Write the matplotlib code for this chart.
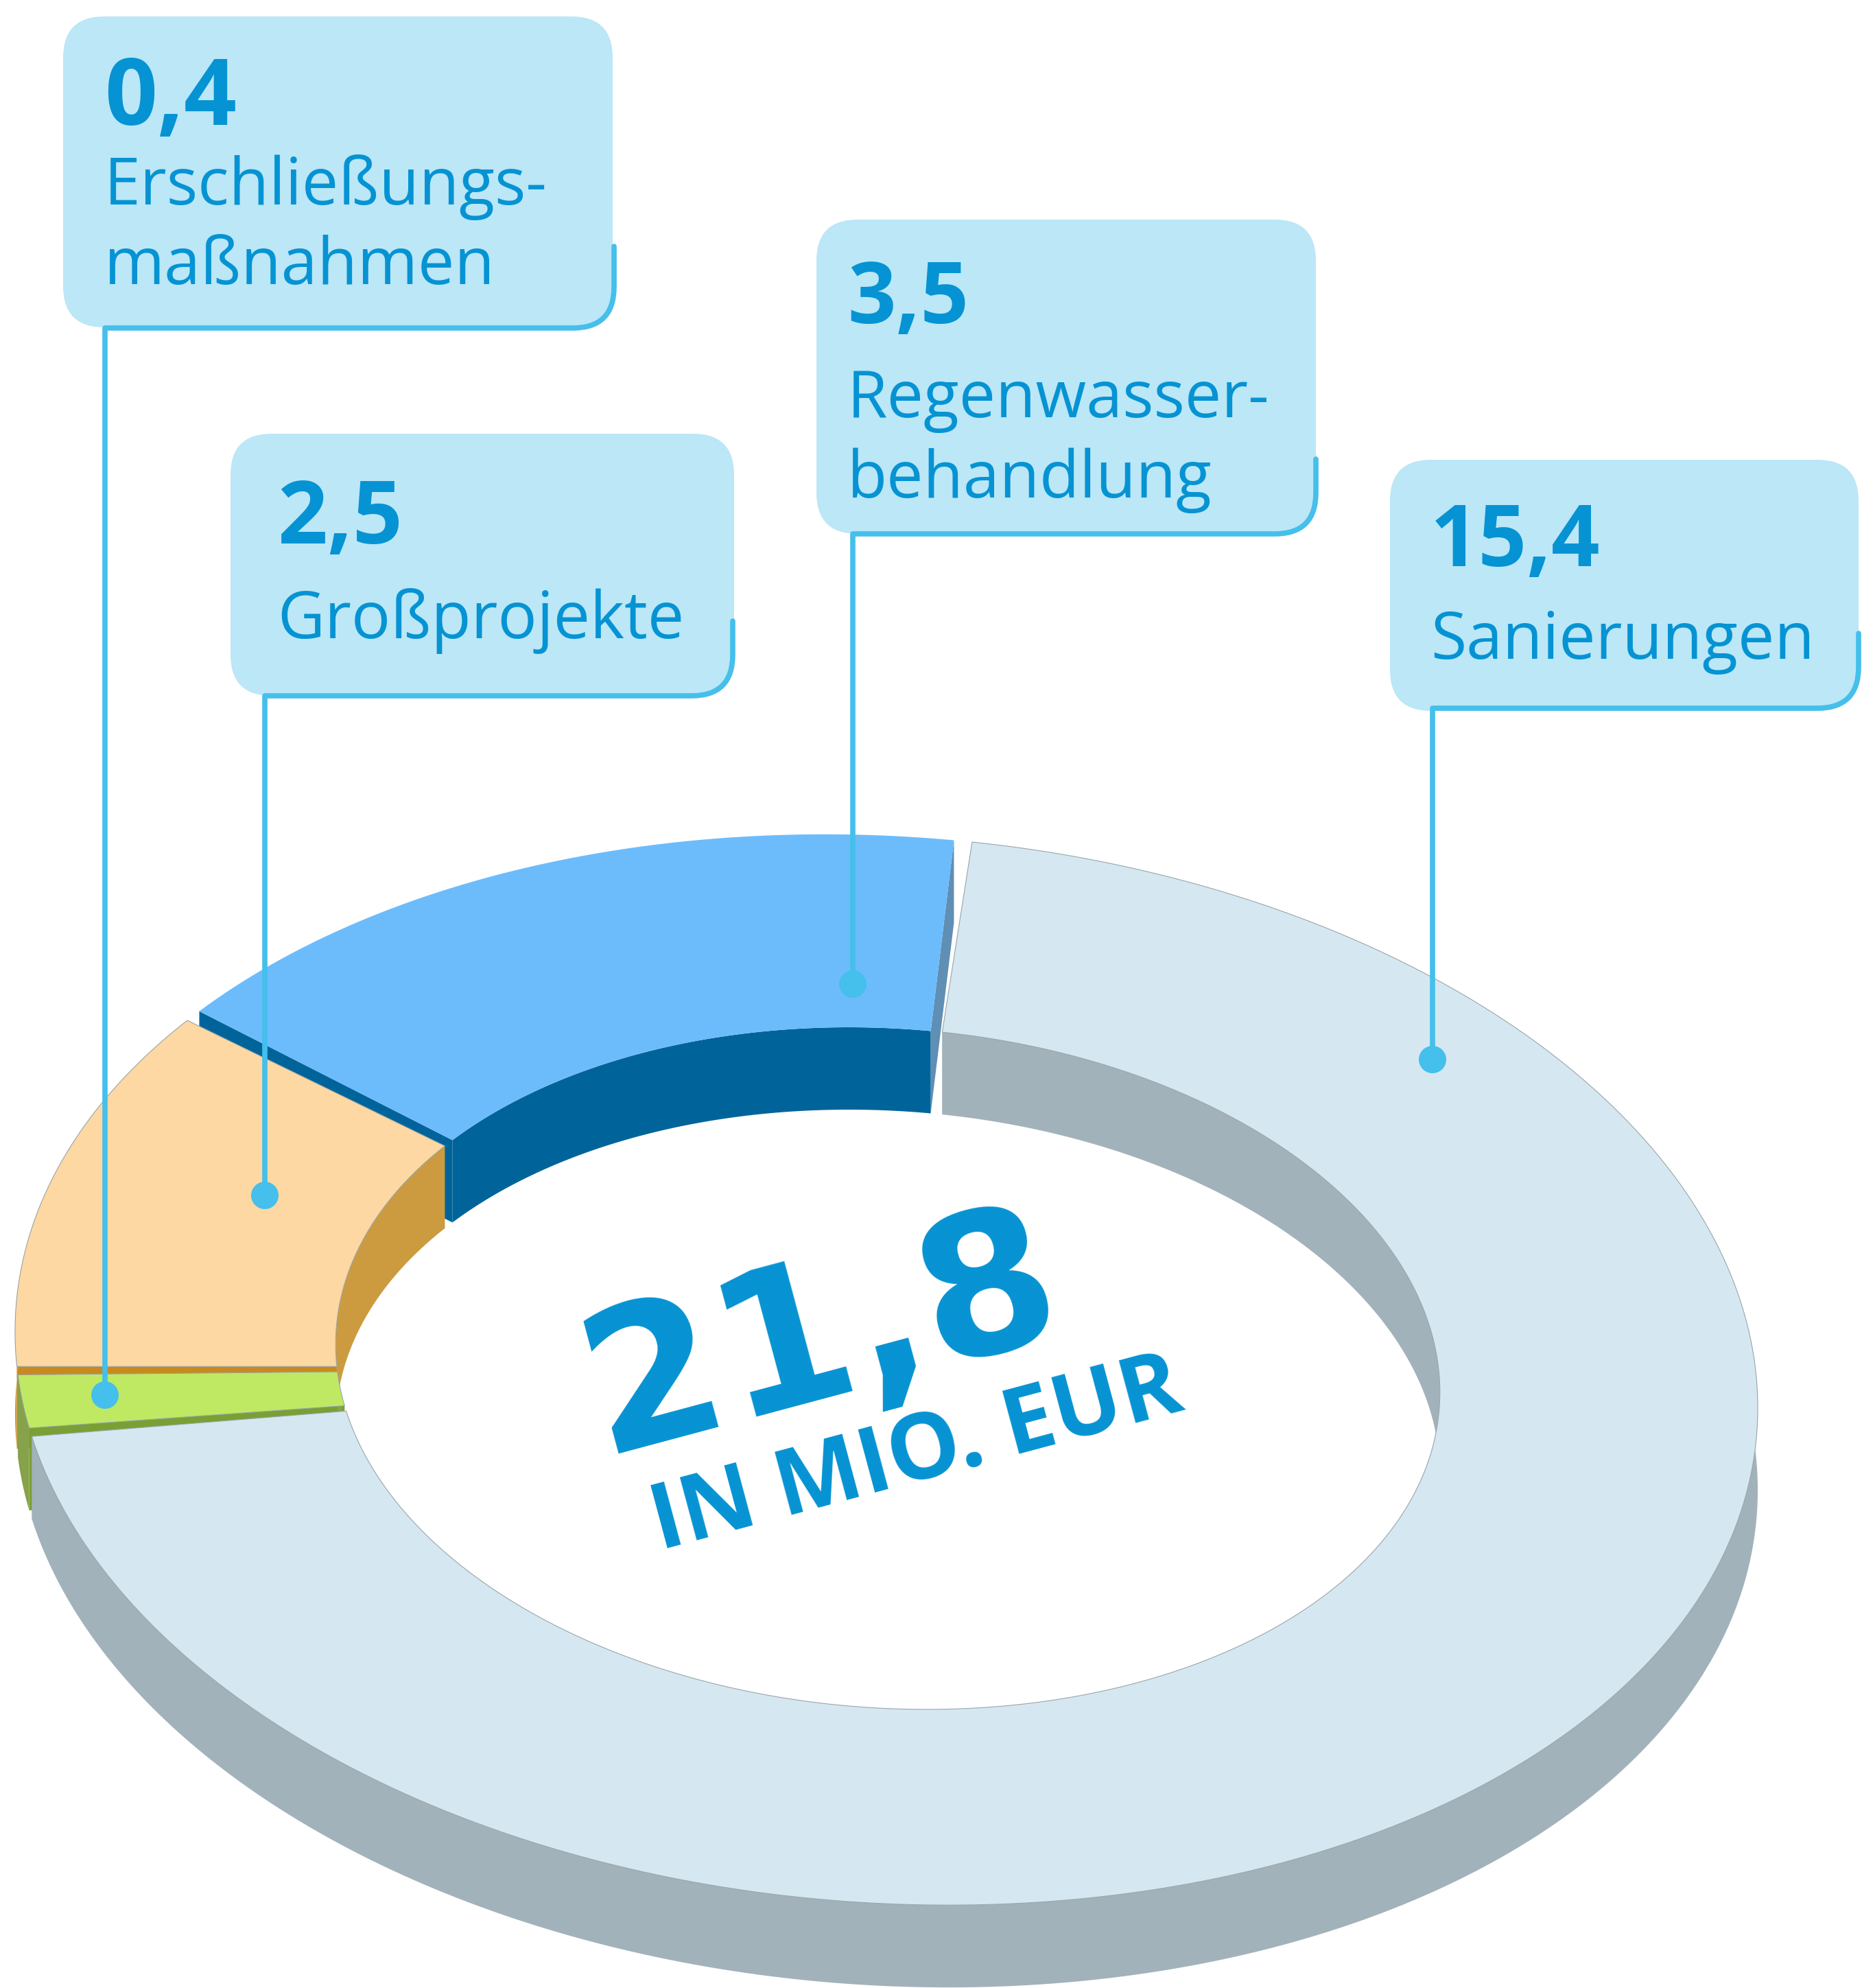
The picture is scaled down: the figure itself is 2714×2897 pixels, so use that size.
import numpy as np
import matplotlib
matplotlib.use("Agg")
import matplotlib.pyplot as plt
from matplotlib.patches import FancyBboxPatch, PathPatch, Circle
from matplotlib.path import Path

# data, clockwise from the gap at the top
labels = ["Sanierungen", "Erschließungs-\nmaßnahmen", "Großprojekte", "Regenwasser-\nbehandlung"]
values = [15.4, 0.4, 2.5, 3.5]
value_text = ["15,4", "0,4", "2,5", "3,5"]
total_text = "21,8"
unit_text = "IN MIO. EUR"

# colours per slice
top_colors = ["#d5e8f1", "#bfe963", "#fdd8a2", "#6cbcfc"]
wall_colors = ["#a2b2ba", "#86a24a", "#cc9b40", "#00649a"]
face_colors = ["#a2b2ba", "#7a9f34", "#c98a1c", "#00649a"]
gaps = [1.2, 0.9, 0.9, 1.3]  # taken off the start of each slice, degrees

BOX = "#bbe7f7"
LINE = "#45bfeb"
TEXT = "#0693d3"
EDGE = "#9aa5aa"
SLIVER = "#5f8fb5"
FONT = "Open Sans"

# ring geometry, in image pixels
W, H = 2714, 2897
OUT = (1292, 1996, 1272, 777)
INN = (1294, 1994, 806, 495)
DEPTH = 120
TILT = np.radians(4)  # the whole ellipse leans, right side lower
START = 88.0

fig = plt.figure(figsize=(W / 100, H / 100), dpi=100)
ax = fig.add_axes([0, 0, 1, 1])
ax.set_xlim(0, W)
ax.set_ylim(H, 0)
ax.axis("off")


def arc(ell, phi, dy=0):
    cx, cy, a, b = ell
    x = a * np.cos(phi)
    y = b * np.sin(phi)
    return np.column_stack([cx + x * np.cos(TILT) + y * np.sin(TILT),
                            cy + x * np.sin(TILT) - y * np.cos(TILT) + dy])


def band(ell, phi):
    # wall between top edge and the same edge moved down
    return np.vstack([arc(ell, phi), arc(ell, phi, DEPTH)[::-1]])


def face(p, col):
    o = arc(OUT, np.array([p]))[0]
    n = arc(INN, np.array([p]))[0]
    ax.fill([o[0], n[0], n[0], o[0]], [o[1], n[1], n[1] + DEPTH, o[1] + DEPTH], color=col, lw=0)


# slice angles from the values
total = sum(values)
slices = []
t = START
for v, g in zip(values, gaps):
    span = v / total * 360
    slices.append(np.radians(np.linspace(t - g, t - span, 300)))
    t -= span

# walls first, far slices first
for i in [3, 2, 1, 0]:
    phi = slices[i]
    sp = np.sin(phi)
    face(phi[0], face_colors[i])
    if i == 3:
        face(phi[-1], SLIVER)
    if (sp >= -0.2).any():
        ax.fill(*band(INN, phi[sp >= -0.2]).T, color=wall_colors[i], lw=0)
    if (sp <= 0.2).any():
        ax.fill(*band(OUT, phi[sp <= 0.2]).T, color=wall_colors[i], lw=0)

# top surfaces
for i in [3, 2, 1, 0]:
    phi = slices[i]
    poly = np.vstack([arc(OUT, phi), arc(INN, phi)[::-1]])
    ax.fill(*poly.T, facecolor=top_colors[i], edgecolor=EDGE if i != 3 else "none", lw=0.8)

# centre text
ax.text(1218, 2028, total_text, rotation=15, rotation_mode="anchor", ha="center", va="baseline",
        fontsize=205, fontweight="bold", family="DejaVu Sans", color=TEXT)
ax.text(1345, 2156, unit_text, rotation=15, rotation_mode="anchor", ha="center", va="baseline",
        fontsize=96, fontweight="bold", family=FONT, color=TEXT)

# callouts: box x0, x1, y0, y1, line x, line y, leader x, dot y, right line start, text x,
# value size, value and label baselines
boxes = [
    (2026, 2709, 670, 1036, 2709, 1032, 2088, 1544, 923, 2085, 89, [825], [960]),
    (92, 893, 24, 477, 895, 478, 153, 2033, 359, 152, 97, [182], [298, 414]),
    (336, 1070, 632, 1014, 1068, 1014, 386, 1742, 905, 404, 92, [792], [930]),
    (1190, 1918, 320, 778, 1918, 778, 1243, 1434, 669, 1235, 89, [471], [608, 725]),
]
R = 60
for i in [1, 2, 3, 0]:
    x0, x1, y0, y1, rx, by, lx, dy, ys, tx, vs, vy, ly = boxes[i]
    ax.add_patch(FancyBboxPatch((x0, y0), x1 - x0, y1 - y0, boxstyle=f"round,pad=0,rounding_size={R}",
                                facecolor=BOX, edgecolor="none", zorder=5))
    path = Path([(rx, ys), (rx, by - R), (rx, by), (rx - R, by), (lx, by), (lx, dy)],
                [Path.MOVETO, Path.LINETO, Path.CURVE3, Path.CURVE3, Path.LINETO, Path.LINETO])
    ax.add_patch(PathPatch(path, fill=False, edgecolor=LINE, lw=5.5, capstyle="round", joinstyle="round", zorder=6))
    ax.add_patch(Circle((lx, dy), 20, color=LINE, lw=0, zorder=7))
    ax.text(tx, vy[0], value_text[i], ha="left", va="baseline", fontsize=vs, fontweight="bold",
            family=FONT, color=TEXT, zorder=8)
    for line, y in zip(labels[i].split("\n"), ly):
        ax.text(tx, y, line, ha="left", va="baseline", fontsize=68.5, family=FONT, color=TEXT, zorder=8)

fig.savefig("out.png", dpi=100, facecolor="white")
